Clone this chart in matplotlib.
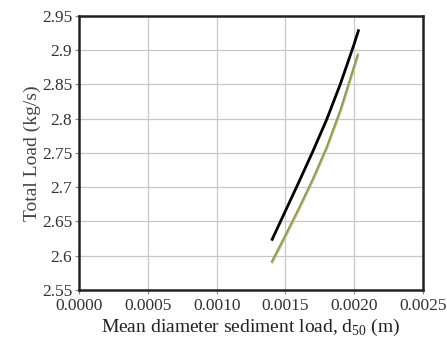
import numpy as np
import matplotlib.pyplot as plt

plt.rcParams['font.family'] = ['Liberation Serif', 'DejaVu Serif']
plt.rcParams['mathtext.fontset'] = 'custom'
plt.rcParams['mathtext.rm'] = 'Liberation Serif'

# data
d50_black = [0.00140, 0.00150, 0.00160, 0.00170, 0.00180, 0.00190, 0.00200, 0.002035]
load_black = [2.622, 2.665, 2.708, 2.752, 2.798, 2.850, 2.908, 2.930]

d50_grey = [0.00140, 0.00150, 0.00160, 0.00170, 0.00180, 0.00190, 0.00200, 0.00203]
load_grey = [2.591, 2.630, 2.670, 2.712, 2.758, 2.812, 2.876, 2.895]

d50_green = [0.00140, 0.00150, 0.00160, 0.00170, 0.00180, 0.00190, 0.00200, 0.00203]
load_green = [2.589, 2.628, 2.668, 2.710, 2.756, 2.810, 2.874, 2.893]

xticks = [0.0, 0.0005, 0.0010, 0.0015, 0.0020, 0.0025]
yticks = [2.55, 2.6, 2.65, 2.7, 2.75, 2.8, 2.85, 2.9, 2.95]
ytick_labels = ['2.55', '2.6', '2.65', '2.7', '2.75', '2.8', '2.85', '2.9', '2.95']

fig = plt.figure(figsize=(4.47, 3.48), dpi=100)
ax = fig.add_axes([0.1774, 0.1667, 0.7682, 0.7883])

ax.plot(d50_green, load_green, color='#b4c85a', lw=2.0, solid_capstyle='butt')
ax.plot(d50_grey, load_grey, color='#9a8f78', lw=1.2, solid_capstyle='butt')
ax.plot(d50_black, load_black, color='black', lw=2.0, solid_capstyle='butt')

ax.set_xlim(0, 0.0025)
ax.set_ylim(2.55, 2.95)
ax.set_xticks(xticks)
ax.set_xticklabels([f'{v:.4f}' for v in xticks])
ax.set_yticks(yticks)
ax.set_yticklabels(ytick_labels)
ax.grid(True, color='#c8c8c8', lw=0.9)
ax.set_axisbelow(True)
for s in ax.spines.values():
    s.set_linewidth(1.8)
    s.set_color('#222222')
ax.tick_params(axis='both', labelsize=12.5, length=3, color='#888888', labelcolor='#333333')
ax.tick_params(axis='x', pad=3)
ax.tick_params(axis='y', pad=2)

ax.set_xlabel('Mean diameter sediment load, d$_{50}$ (m)', fontsize=14, color='#222222', labelpad=2)
ax.set_ylabel('Total Load (kg/s)', fontsize=14, color='#444444', labelpad=1)

fig.savefig('out.png', dpi=100)
